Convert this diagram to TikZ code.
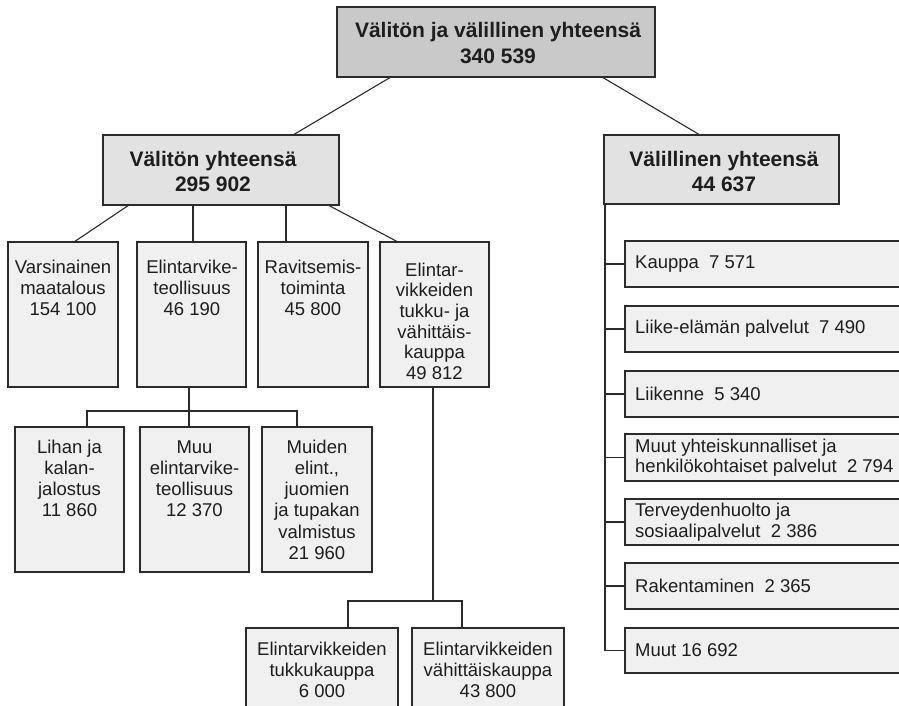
\documentclass[tikz,border=0pt]{standalone}
\usepackage{fontspec}
\setmainfont{Liberation Sans}
\usetikzlibrary{calc}
\definecolor{linec}{HTML}{2B2B2B}
\definecolor{textc}{HTML}{1E1E1E}
\definecolor{grayA}{HTML}{C9C9C9}
\definecolor{grayB}{HTML}{E2E2E2}
\definecolor{grayC}{HTML}{EFF0EF}
\newcommand{\sA}{\rule{0pt}{17pt}}
\newcommand{\sB}{\rule{0pt}{15pt}}
\begin{document}
\begin{tikzpicture}[x=1pt,y=-1pt,
  box/.style={draw=linec, line width=1.1pt, inner sep=0pt, outer sep=0pt, anchor=north west},
  topbox/.style={box, fill=grayA},
  headbox/.style={box, fill=grayB},
  leaf/.style={box, fill=grayC},
  conn/.style={draw=linec, line width=1.1pt},
  hlbl/.style={inner sep=0pt, anchor=north, align=center, text=textc, font=\bfseries\fontsize{21}{25}\selectfont},
  lbl/.style={inner sep=0pt, anchor=north, align=center, text=textc, font=\fontsize{18.5}{21.2}\selectfont},
  rlbl/.style={inner sep=0pt, anchor=west, align=left, text=textc, font=\fontsize{18.5}{20.5}\selectfont}]
\useasboundingbox (0,0) rectangle (899,706);
\fill[white] (0,0) rectangle (899,706);

% top
\node[topbox, minimum width=318pt, minimum height=70pt] (top) at (337,7) {};
\node[hlbl, font=\bfseries\fontsize{21}{25.6}\selectfont] (ttop) at (498,20.7) {\sA Välitön ja välillinen yhteensä\\340 539};

% level 1
\node[headbox, minimum width=236pt, minimum height=70pt] (vt) at (103,135) {};
\node[hlbl] (tvt) at (213,149) {\sA Välitön yhteensä\\295 902};
\node[headbox, minimum width=235pt, minimum height=69pt] (vl) at (604,135) {};
\node[hlbl] (tvl) at (724,149) {\sA Välillinen yhteensä\\44 637};

% level 2
\node[leaf, minimum width=110pt, minimum height=145pt] (v1) at (8,242) {};
\node[leaf, minimum width=109pt, minimum height=145pt] (v2) at (137,242) {};
\node[leaf, minimum width=110pt, minimum height=145pt] (v3) at (258,242) {};
\node[leaf, minimum width=109pt, minimum height=145pt] (v4) at (380,242) {};
\node[lbl] (tv1) at (63,258) {\sB Varsinainen\\maatalous\\154 100};
\node[lbl] (tv2) at (192,258) {\sB Elintarvike-\\teollisuus\\46 190};
\node[lbl] (tv3) at (313,258) {\sB Ravitsemis-\\toiminta\\45 800};
\node[lbl, font=\fontsize{18.5}{20.6}\selectfont] (tv4) at (434.5,261) {\sB Elintar-\\vikkeiden\\tukku- ja\\vähittäis-\\kauppa\\49 812};

% level 3
\node[leaf, minimum width=109pt, minimum height=145pt] (w1) at (15,427) {};
\node[leaf, minimum width=109pt, minimum height=145pt] (w2) at (140,427) {};
\node[leaf, minimum width=110pt, minimum height=145pt] (w3) at (262,427) {};
\node[lbl] (tw1) at (69.5,438) {\sB Lihan ja\\kalan-\\jalostus\\11 860};
\node[lbl] (tw2) at (194.5,438) {\sB Muu\\elintarvike-\\teollisuus\\12 370};
\node[lbl] (tw3) at (317,438) {\sB Muiden\\elint.,\\juomien\\ja tupakan\\valmistus\\21 960};

% level 4
\node[leaf, minimum width=152pt, minimum height=100pt] (u1) at (246,628) {};
\node[leaf, minimum width=152pt, minimum height=100pt] (u2) at (412,628) {};
\node[lbl] (tu1) at (322,640) {\sB Elintarvikkeiden\\tukkukauppa\\6 000};
\node[lbl] (tu2) at (488,640) {\sB Elintarvikkeiden\\vähittäiskauppa\\43 800};

% right column
\node[leaf, minimum width=290pt, minimum height=46pt] (r1) at (625,241) {};
\node[leaf, minimum width=290pt, minimum height=46pt] (r2) at (625,306) {};
\node[leaf, minimum width=290pt, minimum height=46pt] (r3) at (625,371) {};
\node[leaf, minimum width=290pt, minimum height=47pt] (r4) at (625,434) {};
\node[leaf, minimum width=290pt, minimum height=46pt] (r5) at (625,499) {};
\node[leaf, minimum width=290pt, minimum height=46pt] (r6) at (625,563) {};
\node[leaf, minimum width=290pt, minimum height=45pt] (r7) at (625,628) {};
\node[rlbl] (tr1) at ($(r1.west)+(10,0)$) {Kauppa\ \ 7 571};
\node[rlbl] (tr2) at ($(r2.west)+(10,0)$) {Liike-elämän palvelut\ \ 7 490};
\node[rlbl] (tr3) at ($(r3.west)+(10,0)$) {Liikenne\ \ 5 340};
\node[rlbl] (tr4) at ($(r4.west)+(10,0)$) {Muut yhteiskunnalliset ja\\henkilökohtaiset palvelut\ \ 2 794};
\node[rlbl] (tr5) at ($(r5.west)+(10,0)$) {Terveydenhuolto ja\\sosiaalipalvelut\ \ 2 386};
\node[rlbl] (tr6) at ($(r6.west)+(10,0)$) {Rakentaminen\ \ 2 365};
\node[rlbl] (tr7) at ($(r7.west)+(10,0)$) {Muut 16 692};

% connectors top
\draw[conn] ($(top.south west)+(54,0)$) -- ($(vt.north west)+(190,0)$);
\draw[conn] ($(top.south west)+(265,0)$) -- ($(vl.north west)+(96,0)$);

% connectors level 2
\draw[conn] ($(vt.south west)+(26,0)$) -- ($(v1.north west)+(66,0)$);
\draw[conn] ($(vt.south west)+(90,0)$) -- ($(v2.north west)+(56,0)$);
\draw[conn] ($(vt.south west)+(183,0)$) -- ($(v3.north west)+(28,0)$);
\draw[conn] ($(vt.south west)+(225,0)$) -- ($(v4.north west)+(18,0)$);

% connectors level 3
\coordinate (j1) at ($(v2.south west)+(52,24)$);
\draw[conn] ($(v2.south west)+(52,0)$) -- ($(w2.north west)+(49,0)$);
\draw[conn] ($(w1.north west)+(72,0)$) |- (j1) -| ($(w3.north west)+(35,0)$);

% connectors level 4
\coordinate (j2) at ($(v4.south west)+(53,214)$);
\draw[conn] ($(v4.south west)+(53,0)$) -- (j2);
\draw[conn] ($(u1.north west)+(102,0)$) |- (j2) -| ($(u2.north west)+(50,0)$);

% right spine
\coordinate (sp) at ($(vl.south west)+(1,0)$);
\draw[conn] (sp) -- (sp |- r7.west);
\foreach \r in {r1,r2,r3,r4,r5,r6,r7}{
  \draw[conn] (sp |- \r.west) -- (\r.west);
}
\end{tikzpicture}
\end{document}
